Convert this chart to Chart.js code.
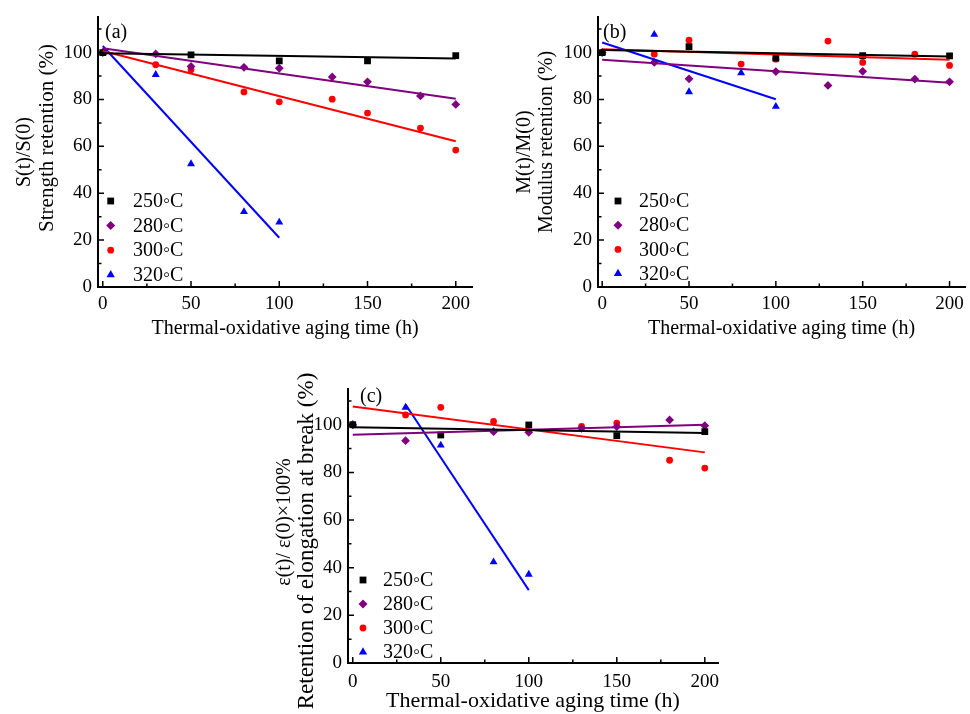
<!DOCTYPE html>
<html><head><meta charset="utf-8">
<script src="https://cdn.jsdelivr.net/npm/chart.js@4/dist/chart.umd.min.js"></script>
<style>
html,body{margin:0;padding:0;background:#fff;width:970px;height:714px;overflow:hidden;position:relative}
canvas{position:absolute;display:block}
</style></head><body>
<canvas id="ca" width="485" height="345" style="left:0;top:0"></canvas>
<canvas id="cb" width="485" height="345" style="left:485px;top:0"></canvas>
<canvas id="cc" width="510" height="344" style="left:230px;top:370px"></canvas>
<script>
// ---------- data ----------
const seriesLabels = ['250\u25E6C','280\u25E6C','300\u25E6C','320\u25E6C'];
const xMajorTicks = [0,50,100,150,200];
const xMinorTicks = [25,75,125,175];
const yMajorTicks = [0,20,40,60,80,100];
const yMinorTicks = [10,30,50,70,90,110];

// (a) strength retention
const aT250 = [0,50,100,150,200];
const aV250 = [100,99.0,96.5,96.5,98.7];
const aT280 = [0,30,50,80,100,130,150,180,200];
const aV280 = [100,99.4,94.1,93.7,93.3,89.6,87.5,81.5,77.9];
const aT300 = [0,30,50,80,100,130,150,180,200];
const aV300 = [100,94.8,92.7,83.2,79.0,80.1,74.2,67.8,58.4];
const aT320 = [0,30,50,80,100];
const aV320 = [100,90.6,52.5,32.1,27.6];
const aFitX = [[0,200],[0,200],[0,200],[0,100]];
const aFitY = [[99.7,97.5],[101.8,80.3],[100.7,62.2],[102.8,21.0]];

// (b) modulus retention
const bT250 = [0,50,100,150,200];
const bV250 = [100,102.5,97.6,98.7,98.6];
const bT280 = [0,30,50,100,130,150,180,200];
const bV280 = [100,95.8,88.8,91.9,86.0,92.0,88.7,87.5];
const bT300 = [0,30,50,80,100,130,150,180,200];
const bV300 = [100,99.3,105.3,95.1,97.2,104.9,95.8,99.3,94.5];
const bT320 = [0,30,50,80,100];
const bV320 = [100,107.7,83.2,91.3,77.0];
const bFitX = [[0,200],[0,200],[0,200],[0,100]];
const bFitY = [[101.1,98.3],[96.9,87.1],[101.4,96.9],[104.3,80.1]];

// (c) elongation at break retention
const cT250 = [0,50,100,150,200];
const cV250 = [100,95.7,99.9,95.4,97.1];
const cT280 = [0,30,80,100,130,150,180,200];
const cV280 = [100,93.3,97.1,96.8,98.5,99.2,102.0,99.6];
const cT300 = [0,30,50,80,130,150,180,200];
const cV300 = [100,104.1,107.3,101.4,99.3,100.7,85.1,81.8];
const cT320 = [0,30,50,80,100];
const cV320 = [100,107.3,91.4,42.4,37.2];
const cFitX = [[0,200],[0,200],[0,200],[30,100]];
const cFitY = [[98.9,96.5],[95.8,100.0],[107.7,88.4],[108.5,30.6]];

// ---------- styling ----------
const colors = ['#000000','#800080','#ff0000','#0000ff'];
const styles = ['rect','rectRot','circle','triangle'];
const radii = [4.8,4.4,3.4,4.6];
const SERIF = '"Liberation Serif","Times New Roman",serif';

function pts(xs, ys){ return xs.map((x,i)=>({x:x,y:ys[i]})); }

function buildDatasets(times, vals, fitX, fitY){
  const ds = [];
  for(let i=0;i<4;i++){
    ds.push({label:seriesLabels[i], data:pts(times[i],vals[i]), pointStyle:styles[i],
      pointRadius:radii[i], pointHoverRadius:radii[i], backgroundColor:colors[i], borderColor:colors[i],
      pointBorderWidth:0, showLine:false, order:2});
    ds.push({label:'fit', data:pts(fitX[i],fitY[i]), borderColor:colors[i], borderWidth:2,
      pointRadius:0, showLine:true, fill:false, order:1});
  }
  return ds;
}

function drawMarker(ctx, style, x, y, color){
  ctx.fillStyle = color;
  ctx.beginPath();
  if(style==='rect'){ const s=3.4; ctx.rect(x-s,y-s,2*s,2*s); }
  else if(style==='rectRot'){ const r=4.5; ctx.moveTo(x,y-r); ctx.lineTo(x+r,y); ctx.lineTo(x,y+r); ctx.lineTo(x-r,y); ctx.closePath(); }
  else if(style==='circle'){ ctx.arc(x,y,3.4,0,Math.PI*2); }
  else { const r=4.8; ctx.moveTo(x,y-r); ctx.lineTo(x+r*0.866,y+r/2); ctx.lineTo(x-r*0.866,y+r/2); ctx.closePath(); }
  ctx.fill();
}

const decorPlugin = {
  id:'decor',
  afterDraw(chart, args, o){
    const ctx = chart.ctx, ca = chart.chartArea;
    const xs = chart.scales.x, ys = chart.scales.y;
    ctx.save();
    // inward ticks
    ctx.strokeStyle = '#000'; ctx.lineWidth = 1.5;
    ctx.beginPath();
    xMajorTicks.forEach(v=>{ const p=xs.getPixelForValue(v); ctx.moveTo(p,ca.bottom); ctx.lineTo(p,ca.bottom-6); });
    xMinorTicks.forEach(v=>{ const p=xs.getPixelForValue(v); ctx.moveTo(p,ca.bottom); ctx.lineTo(p,ca.bottom-3.5); });
    yMajorTicks.forEach(v=>{ const p=ys.getPixelForValue(v); ctx.moveTo(ca.left,p); ctx.lineTo(ca.left+6,p); });
    yMinorTicks.forEach(v=>{ const p=ys.getPixelForValue(v); ctx.moveTo(ca.left,p); ctx.lineTo(ca.left+3.5,p); });
    ctx.stroke();
    // panel label
    ctx.fillStyle = '#000';
    ctx.font = '20px ' + SERIF;
    ctx.textAlign = 'left'; ctx.textBaseline = 'middle';
    ctx.fillText(o.panel, ca.left + o.panelDx, ca.top + o.panelDy);
    // y titles
    ctx.textAlign = 'center';
    o.yTitles.forEach(t=>{
      ctx.save();
      ctx.font = t.size + 'px ' + SERIF;
      ctx.translate(ca.left + t.dx, t.cy);
      ctx.rotate(-Math.PI/2);
      ctx.fillText(t.text, 0, 0);
      ctx.restore();
    });
    // legend
    ctx.textAlign = 'left';
    ctx.font = '20px ' + SERIF;
    for(let i=0;i<4;i++){
      const y = ca.bottom - o.legBottom + i*o.legGap;
      drawMarker(ctx, styles[i], ca.left + o.legMarkX, y, colors[i]);
      ctx.fillStyle = '#000';
      ctx.fillText(seriesLabels[i], ca.left + o.legTextX, y+1);
    }
    ctx.restore();
  }
};

function makeChart(id, datasets, cfg){
  const tickFont = {family:SERIF, size:19};
  return new Chart(document.getElementById(id), {
    type:'scatter',
    data:{datasets:datasets},
    options:{
      responsive:false, animation:false, events:[],
      layout:{padding:cfg.padding},
      plugins:{legend:{display:false}, tooltip:{enabled:false}, decor:cfg.decor},
      scales:{
        x:{type:'linear', min:cfg.xmin, max:cfg.xmax,
          afterBuildTicks:s=>{ s.ticks = xMajorTicks.map(v=>({value:v})); },
          afterFit:s=>{ s.height = cfg.xh; },
          grid:{display:true, drawOnChartArea:false, drawTicks:false},
          border:{display:true, color:'#000', width:2},
          ticks:{color:'#000', font:tickFont, padding:cfg.xpad, maxRotation:0, autoSkip:false},
          title:{display:true, text:'Thermal-oxidative aging time (h)', color:'#000',
            font:{family:SERIF, size:cfg.xtitleSize}, padding:{top:0,bottom:cfg.xtitlePad}}
        },
        y:{type:'linear', min:0, max:115,
          afterBuildTicks:s=>{ s.ticks = yMajorTicks.map(v=>({value:v})); },
          afterFit:s=>{ s.width = cfg.yw; },
          grid:{display:true, drawOnChartArea:false, drawTicks:false},
          border:{display:true, color:'#000', width:2},
          ticks:{color:'#000', font:tickFont, padding:6, autoSkip:false}
        }
      }
    },
    plugins:[decorPlugin]
  });
}

makeChart('ca', buildDatasets([aT250,aT280,aT300,aT320],[aV250,aV280,aV300,aV320],aFitX,aFitY), {
  padding:{left:0,top:13,right:13,bottom:0}, xmin:-2.7, xmax:209.2, xh:58, yw:98, xpad:6, xtitlePad:4, xtitleSize:20,
  decor:{panel:'(a)', panelDx:7, panelDy:15.5,
    yTitles:[{text:'S(t)/S(0)', dx:-73, cy:152, size:20},{text:'Strength retention (%)', dx:-51, cy:138, size:21}],
    legMarkX:12.7, legTextX:35, legBottom:86, legGap:24.6}
});
makeChart('cb', buildDatasets([bT250,bT280,bT300,bT320],[bV250,bV280,bV300,bV320],bFitX,bFitY), {
  padding:{left:0,top:13,right:0,bottom:0}, xmin:-2.4, xmax:208.9, xh:58, yw:113, xpad:6, xtitlePad:4, xtitleSize:20,
  decor:{panel:'(b)', panelDx:5, panelDy:15.5,
    yTitles:[{text:'M(t)/M(0)', dx:-73, cy:152, size:20},{text:'Modulus retention (%)', dx:-51, cy:142, size:20}],
    legMarkX:20, legTextX:41, legBottom:86, legGap:24.2}
});
makeChart('cc', buildDatasets([cT250,cT280,cT300,cT320],[cV250,cV280,cV300,cV320],cFitX,cFitY), {
  padding:{left:0,top:19,right:22,bottom:0}, xmin:-2.7, xmax:207.5, xh:51, yw:118, xpad:8, xtitlePad:0, xtitleSize:22,
  decor:{panel:'(c)', panelDx:12, panelDy:8,
    yTitles:[{text:'\u03B5(t)/ \u03B5(0)\u00D7100%', dx:-63, cy:152, size:20},{text:'Retention of elongation at break (%)', dx:-41, cy:171, size:23}],
    legMarkX:15, legTextX:35, legBottom:83, legGap:24}
});
</script>
</body></html>
